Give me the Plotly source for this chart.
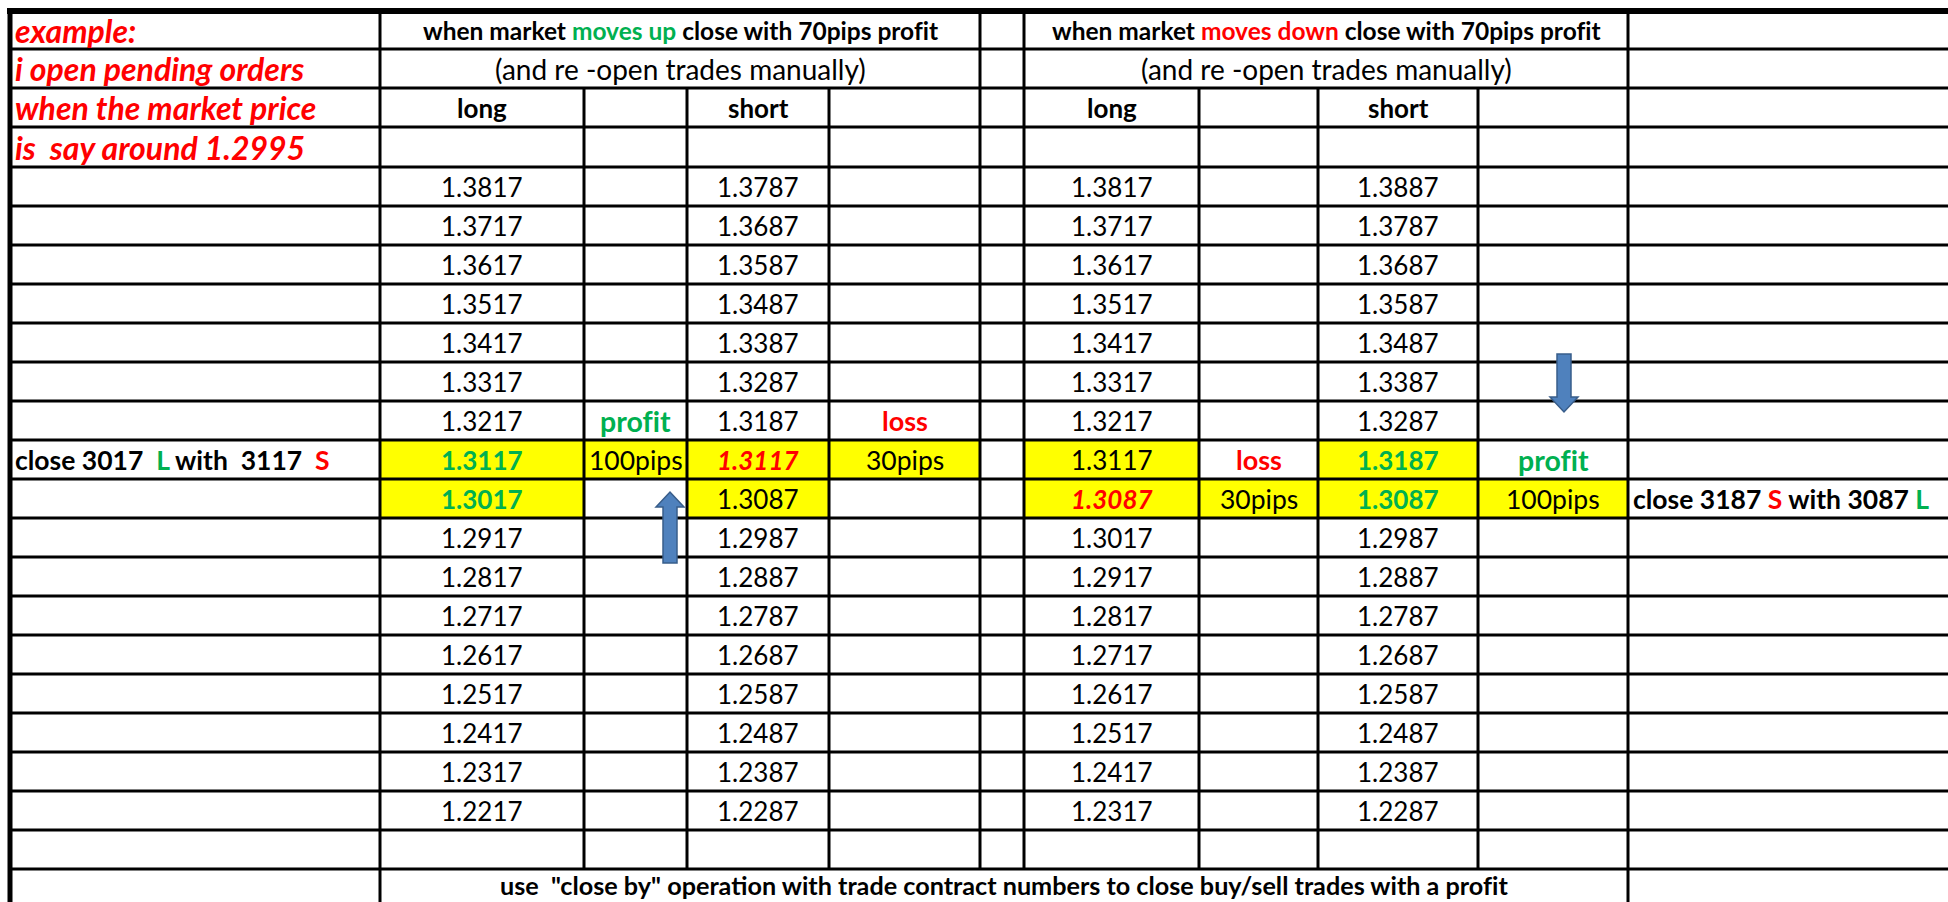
import plotly.graph_objects as go

# ---------------- data ----------------
left_notes = ["example:", "i open pending orders", "when the market price", "is \u00a0say around 1.2995"]
header_up = ["when market ", "moves up", " close with 70pips profit"]
header_down = ["when market ", "moves down", " close with 70pips profit"]
subheader = "(and re -open trades manually)"
col_titles = ["long", "short"]

long_up = [1.3817, 1.3717, 1.3617, 1.3517, 1.3417, 1.3317, 1.3217, 1.3117, 1.3017,
           1.2917, 1.2817, 1.2717, 1.2617, 1.2517, 1.2417, 1.2317, 1.2217]
short_up = [1.3787, 1.3687, 1.3587, 1.3487, 1.3387, 1.3287, 1.3187, 1.3117, 1.3087,
            1.2987, 1.2887, 1.2787, 1.2687, 1.2587, 1.2487, 1.2387, 1.2287]
long_down = [1.3817, 1.3717, 1.3617, 1.3517, 1.3417, 1.3317, 1.3217, 1.3117, 1.3087,
             1.3017, 1.2917, 1.2817, 1.2717, 1.2617, 1.2517, 1.2417, 1.2317]
short_down = [1.3887, 1.3787, 1.3687, 1.3587, 1.3487, 1.3387, 1.3287, 1.3187, 1.3087,
              1.2987, 1.2887, 1.2787, 1.2687, 1.2587, 1.2487, 1.2387, 1.2287]

# notes column per series (index of value row -> label)
up_notes_long = {6: "profit", 7: "100pips"}
up_notes_short = {6: "loss", 7: "30pips"}
down_notes_long = {7: "loss", 8: "30pips"}
down_notes_short = {7: "profit", 8: "100pips"}

close_up = ["close 3017 \u00a0", "L", " with \u00a03117 \u00a0", "S"]
close_down = ["close 3187 ", "S", " with 3087 ", "L"]
footer = 'use \u00a0"close by" operation with trade contract numbers to close buy/sell trades with a profit'

# highlighted (yellow) cells: (column, value-row index)
highlight = [(1, 7), (2, 7), (3, 7), (4, 7), (1, 8), (3, 8),
             (6, 7), (8, 7), (6, 8), (7, 8), (8, 8), (9, 8)]
# special value styles: (column, value-row index) -> style
value_style = {(1, 7): "green", (1, 8): "green", (3, 7): "red_italic",
               (8, 7): "green", (8, 8): "green", (6, 8): "red_italic"}

# ---------------- geometry / styles ----------------
W, H = 1948, 902
col_edges = [10, 380, 584, 687, 829, 980, 1024, 1199, 1318, 1478, 1628, 1990]
row_edges = [11, 49, 88, 127, 167] + [167 + 39 * k for k in range(1, 20)]
GREEN = "#00B050"
RED = "#FF0000"
YELLOW = "#FFFF00"
FONT = "Lato"
LINE_W = 3
NOLIG = "\u200c"  # avoid 'fi' ligature


def nolig(s):
    return s.replace("fi", "f" + NOLIG + "i")


def cx(c):
    return (col_edges[c] + col_edges[c + 1]) / 2


def cy(r):
    return (row_edges[r] + min(row_edges[r + 1], H)) / 2


shapes = []
annotations = []


def add_text(x, y, text, size, color="black", xanchor="center"):
    annotations.append(dict(x=x, y=y, xref="x", yref="y", text=nolig(text), showarrow=False,
                            xanchor=xanchor, yanchor="middle",
                            font=dict(family=FONT, size=size, color=color)))


# yellow fills
for c, i in highlight:
    r = 4 + i
    shapes.append(dict(type="rect", xref="x", yref="y", x0=col_edges[c], x1=col_edges[c + 1],
                       y0=row_edges[r], y1=row_edges[r + 1], fillcolor=YELLOW,
                       line=dict(width=0), layer="below"))

# merged regions: row -> set of hidden interior vertical edge indices
hidden = {0: {2, 3, 4, 7, 8, 9}, 1: {2, 3, 4, 7, 8, 9}, 22: {2, 3, 4, 5, 6, 7, 8, 9}}
nrows = len(row_edges) - 1

# horizontal grid lines
for y in row_edges[1:-1]:
    shapes.append(dict(type="line", xref="x", yref="y", x0=col_edges[0], x1=W, y0=y, y1=y,
                       line=dict(color="black", width=LINE_W)))

# vertical grid lines
for e in range(1, len(col_edges) - 1):
    x = col_edges[e]
    start = None
    for r in range(nrows + 1):
        vis = r < nrows and e not in hidden.get(r, set())
        if vis and start is None:
            start = r
        if not vis and start is not None:
            shapes.append(dict(type="line", xref="x", yref="y", x0=x, x1=x,
                               y0=row_edges[start], y1=min(row_edges[r], H),
                               line=dict(color="black", width=LINE_W)))
            start = None

# outer borders
shapes.append(dict(type="line", xref="x", yref="y", x0=7, x1=W, y0=row_edges[0], y1=row_edges[0],
                   line=dict(color="black", width=6)))
shapes.append(dict(type="line", xref="x", yref="y", x0=col_edges[0], x1=col_edges[0], y0=8, y1=H,
                   line=dict(color="black", width=5)))

# arrows (block arrows)
ARROW_FILL = "#4F81BD"
ARROW_LINE = "#385D8A"


def block_arrow(xc, y_tail, y_tip, head_len, head_hw, shaft_hw):
    d = 1 if y_tip > y_tail else -1
    yb = y_tip - d * head_len
    path = (f"M {xc - shaft_hw},{y_tail} L {xc + shaft_hw},{y_tail} L {xc + shaft_hw},{yb} "
            f"L {xc + head_hw},{yb} L {xc},{y_tip} L {xc - head_hw},{yb} L {xc - shaft_hw},{yb} Z")
    shapes.append(dict(type="path", xref="x", yref="y", path=path, fillcolor=ARROW_FILL,
                       line=dict(color=ARROW_LINE, width=1.5)))


block_arrow(670, 563, 492, 15, 14, 7)
block_arrow(1564, 354, 412, 15, 14, 7)

# ---------------- texts ----------------
for k, t in enumerate(left_notes):
    add_text(col_edges[0] + 3, cy(k), f"<b><i>{t}</i></b>", 32, RED, xanchor="left")

add_text((col_edges[1] + col_edges[5]) / 2, cy(0),
         f"<b>{header_up[0]}<span style='color:{GREEN}'>{header_up[1]}</span>{header_up[2]}</b>", 24.5)
add_text((col_edges[6] + col_edges[10]) / 2, cy(0),
         f"<b>{header_down[0]}<span style='color:{RED}'>{header_down[1]}</span>{header_down[2]}</b>", 24.5)
add_text((col_edges[1] + col_edges[5]) / 2, cy(1), subheader, 28)
add_text((col_edges[6] + col_edges[10]) / 2, cy(1), subheader, 28)
for c, t in zip([1, 3, 6, 8], col_titles * 2):
    add_text(cx(c), cy(2), f"<b>{t}</b>", 26)

series = {1: long_up, 3: short_up, 6: long_down, 8: short_down}
for c, vals in series.items():
    for i, v in enumerate(vals):
        s = f"{v:.4f}"
        st = value_style.get((c, i))
        if st == "green":
            add_text(cx(c), cy(4 + i), f"<b>{s}</b>", 26, GREEN)
        elif st == "red_italic":
            add_text(cx(c), cy(4 + i), f"<b><i>{s}</i></b>", 26, RED)
        else:
            add_text(cx(c), cy(4 + i), s, 26)

note_cols = {2: up_notes_long, 4: up_notes_short, 7: down_notes_long, 9: down_notes_short}
for c, notes in note_cols.items():
    for i, t in notes.items():
        if t == "profit":
            add_text(cx(c), cy(4 + i), f"<b>{t}</b>", 28.5, GREEN)
        elif t == "loss":
            add_text(cx(c), cy(4 + i), f"<b>{t}</b>", 27, RED)
        else:
            add_text(cx(c), cy(4 + i), t, 26.5)

add_text(col_edges[0] + 3, cy(11),
         f"<b>{close_up[0]}<span style='color:{GREEN}'>{close_up[1]}</span>{close_up[2]}"
         f"<span style='color:{RED}'>{close_up[3]}</span></b>", 26.5, xanchor="left")
add_text(col_edges[10] + 3, cy(12),
         f"<b>{close_down[0]}<span style='color:{RED}'>{close_down[1]}</span>{close_down[2]}"
         f"<span style='color:{GREEN}'>{close_down[3]}</span></b>", 26.5, xanchor="left")
add_text((col_edges[1] + col_edges[10]) / 2, cy(22) - 1, f"<b>{footer}</b>", 25.2)

fig = go.Figure()
fig.update_layout(
    width=W, height=H, margin=dict(l=0, r=0, t=0, b=0),
    paper_bgcolor="white", plot_bgcolor="white",
    xaxis=dict(range=[0, W], visible=False, fixedrange=True),
    yaxis=dict(range=[H, 0], visible=False, fixedrange=True),
    shapes=shapes, annotations=annotations, showlegend=False,
)
fig.write_html("out.html", config={"displayModeBar": False},
               post_script="document.body.style.margin='0';document.body.style.overflow='hidden';")
